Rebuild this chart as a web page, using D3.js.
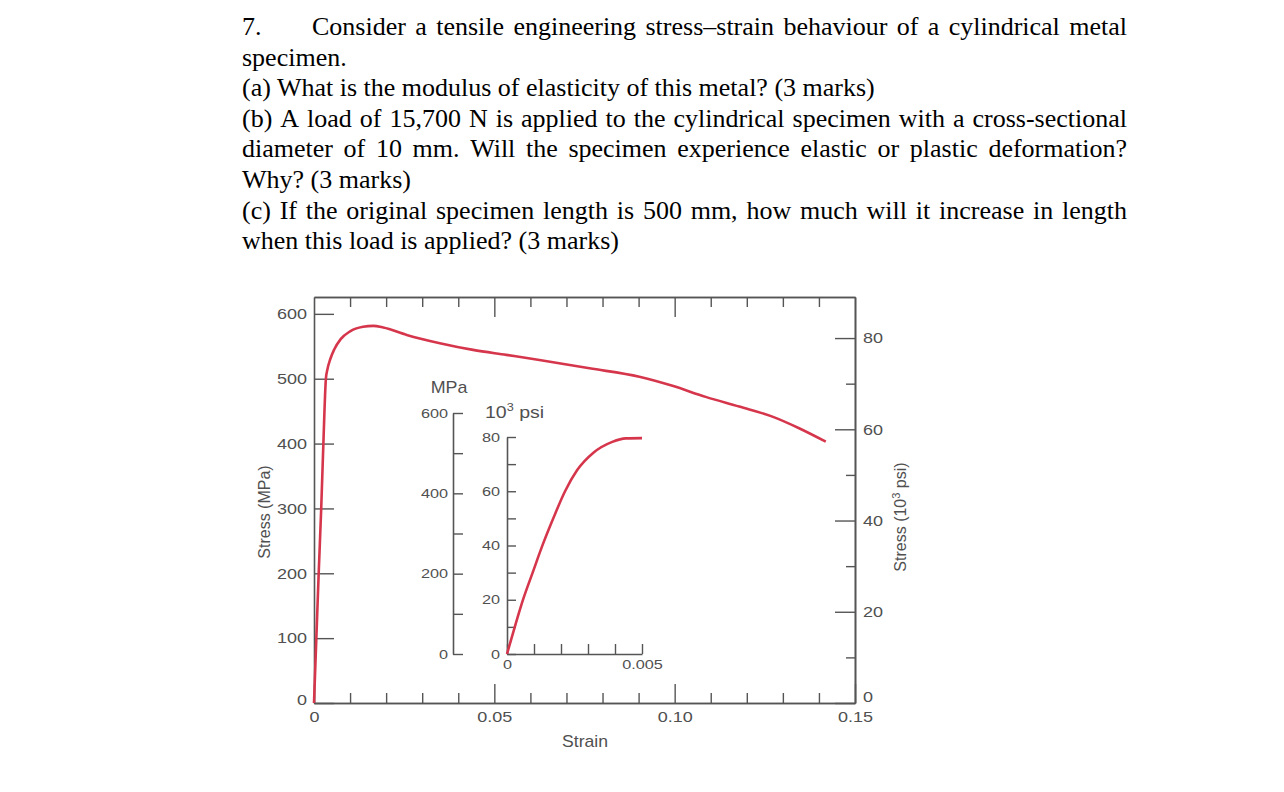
<!DOCTYPE html>
<html>
<head>
<meta charset="utf-8">
<script src="https://cdn.jsdelivr.net/npm/d3@7"></script>
<style>
  html, body { margin: 0; padding: 0; background: #fff; }
  svg { display: block; }
  .q { font-family: "Liberation Serif", "Times New Roman", serif; font-size: 26px; fill: #000; }
  .lab { font-family: "Liberation Sans", Arial, sans-serif; fill: #505050; }
</style>
</head>
<body>
<svg id="chart" width="1284" height="792"></svg>
<script>
// question text
const questionNumber = "7.";
const questionLines = [
  "Consider a tensile engineering stress\u2013strain behaviour of a cylindrical metal",
  "specimen.",
  "(a) What is the modulus of elasticity of this metal? (3 marks)",
  "(b) A load of 15,700 N is applied to the cylindrical specimen with a cross-sectional",
  "diameter of 10 mm. Will the specimen experience elastic or plastic deformation?",
  "Why? (3 marks)",
  "(c) If the original specimen length is 500 mm, how much will it increase in length",
  "when this load is applied? (3 marks)"
];
const justifiedLines = [true, false, false, true, true, false, true, false];

// main curve (engineering strain, stress in MPa)
const strain = [0, 0.00065, 0.0013, 0.002, 0.0026, 0.0033, 0.0037, 0.0045, 0.0056, 0.0074, 0.010,
  0.0136, 0.0164, 0.0192, 0.0257, 0.0349, 0.0441, 0.0533, 0.0625, 0.0764, 0.0902,
  0.0994, 0.1086, 0.1179, 0.1271, 0.1345, 0.1419];
const stressMPa = [0, 100, 200, 300, 400, 500, 514, 530, 545, 561, 573,
  580, 581.5, 579, 567.6, 554.8, 544.5, 536.8, 529, 516, 503,
  489, 472, 457, 441.6, 423.7, 403];

// inset curve (strain, stress in 10^3 psi)
const insetStrain = [0, 0.0003, 0.0006, 0.00095, 0.00133, 0.00175, 0.00215, 0.0026,
  0.0032, 0.0039, 0.0044, 0.005];
const insetStressKsi = [0, 10.4, 20.2, 30.0, 40.5, 50.9, 60.0, 67.8, 74.2, 78.2, 79.5, 79.6];

// ticks
const strainLabels = [0, 0.05, 0.10, 0.15];
const strainMinor = [0.01, 0.02, 0.03, 0.04, 0.06, 0.07, 0.08, 0.09, 0.11, 0.12, 0.13, 0.14];
const mpaTicks = [0, 100, 200, 300, 400, 500, 600];
const ksiLabels = [0, 20, 40, 60, 80];
const ksiMinor = [10, 30, 50, 70];
const insetMpaTicks = [0, 100, 200, 300, 400, 500, 600];
const insetKsiTicks = [0, 10, 20, 30, 40, 50, 60, 70, 80];
const insetStrainTicks = [0, 0.001, 0.002, 0.003, 0.004, 0.005];

const svg = d3.select("#chart");
const axisColor = "#555";
const red = "#d6364c";

// ---- question text ----
const q = svg.append("g");
const measure = q.append("text").attr("class", "q");
function wordWidth(w) { measure.text(w); return measure.node().getComputedTextLength(); }

q.append("text").attr("class", "q").attr("x", 242).attr("y", 35).text(questionNumber);

questionLines.forEach((line, i) => {
  const x0 = i === 0 ? 312 : 242;
  const yb = 35 + i * 30.6;
  const t = q.append("text").attr("class", "q").attr("y", yb);
  if (!justifiedLines[i]) {
    t.attr("x", x0).text(line);
    return;
  }
  const words = line.split(" ");
  const widths = words.map(wordWidth);
  const gap = (1127 - x0 - d3.sum(widths)) / (words.length - 1);
  let cx = x0;
  words.forEach((w, j) => {
    t.append("tspan").attr("x", cx).text(w);
    cx += widths[j] + gap;
  });
});
measure.remove();

// ---- main chart ----
const x = d3.scaleLinear().domain([0, 0.15]).range([314, 855]);
const y = d3.scaleLinear().domain([0, 626]).range([703, 297]);
const yKsi = d3.scaleLinear().domain([0, 89]).range([703, 297]);

function styleAxis(g, size, sx) {
  g.selectAll(".domain").attr("stroke", axisColor).attr("stroke-width", 1.6);
  g.selectAll(".tick line").attr("stroke", axisColor).attr("stroke-width", 1.4);
  g.selectAll("text")
    .attr("fill", "#505050")
    .attr("font-family", "'Liberation Sans', Arial, sans-serif")
    .attr("font-size", size)
    .each(function() {
      const t = d3.select(this);
      const tx = +t.attr("x") || 0;
      t.attr("x", tx / sx).attr("transform", `scale(${sx},1)`);
    });
  g.attr("font-family", null).attr("font-size", null);
}

const fmtStrain = d => d === 0 ? "0" : d.toFixed(2);

svg.append("g").attr("transform", "translate(0,703)")
  .call(d3.axisBottom(x).tickValues(strainMinor).tickSizeInner(-10).tickSizeOuter(0).tickFormat(""))
  .call(g => styleAxis(g, 15, 1.2));
svg.append("g").attr("transform", "translate(0,703)")
  .call(d3.axisBottom(x).tickValues(strainLabels).tickSizeInner(-19).tickSizeOuter(0).tickPadding(8).tickFormat(fmtStrain))
  .call(g => styleAxis(g, 15, 1.2));

svg.append("g").attr("transform", "translate(0,297)")
  .call(d3.axisTop(x).tickValues(strainMinor).tickSizeInner(-10).tickSizeOuter(0).tickFormat(""))
  .call(g => styleAxis(g, 15, 1.2));
svg.append("g").attr("transform", "translate(0,297)")
  .call(d3.axisTop(x).tickValues([0.05, 0.10]).tickSizeInner(-20).tickSizeOuter(0).tickFormat(""))
  .call(g => styleAxis(g, 15, 1.2));

svg.append("g").attr("transform", "translate(314,0)")
  .call(d3.axisLeft(y).tickValues(mpaTicks).tickSizeInner(-20).tickSizeOuter(0).tickPadding(7))
  .call(g => styleAxis(g, 15, 1.2))
  .call(g => g.selectAll(".tick text").filter(d => d === 0).attr("dy", "0.1em"));

svg.append("g").attr("transform", "translate(855,0)")
  .call(d3.axisRight(yKsi).tickValues(ksiMinor).tickSizeInner(-9).tickSizeOuter(0).tickFormat(""))
  .call(g => styleAxis(g, 15, 1.2));
svg.append("g").attr("transform", "translate(855,0)")
  .call(d3.axisRight(yKsi).tickValues(ksiLabels).tickSizeInner(-20).tickSizeOuter(0).tickPadding(8))
  .call(g => styleAxis(g, 15, 1.2))
  .call(g => g.selectAll(".tick text").filter(d => d === 0).attr("dy", "-0.08em"));

const mainLine = d3.line()
  .x(i => x(strain[i]))
  .y(i => y(stressMPa[i]))
  .curve(d3.curveMonotoneX);

svg.append("path")
  .attr("d", mainLine(d3.range(strain.length)))
  .attr("fill", "none")
  .attr("stroke", red)
  .attr("stroke-width", 2.6);

// axis titles
svg.append("text").attr("class", "lab")
  .attr("transform", "translate(270,512) rotate(-90)")
  .attr("text-anchor", "middle").attr("font-size", 16)
  .text("Stress (MPa)");

const rt = svg.append("text").attr("class", "lab")
  .attr("transform", "translate(906,517) rotate(-90)")
  .attr("text-anchor", "middle").attr("font-size", 16);
rt.append("tspan").text("Stress (10");
rt.append("tspan").attr("font-size", 11).attr("dy", -6).text("3");
rt.append("tspan").attr("dy", 6).text(" psi)");

svg.append("text").attr("class", "lab")
  .attr("transform", "translate(585,747) scale(1.1,1)")
  .attr("text-anchor", "middle").attr("font-size", 16)
  .text("Strain");

// ---- inset ----
const xIn = d3.scaleLinear().domain([0, 0.005]).range([507, 642]);
const yInKsi = d3.scaleLinear().domain([0, 80]).range([654, 437]);
const yInMPa = d3.scaleLinear().domain([0, 600]).range([654, 413]);

svg.append("g").attr("transform", "translate(453,0)")
  .call(d3.axisLeft(yInMPa).tickValues(insetMpaTicks).tickSizeInner(-10).tickSizeOuter(0).tickPadding(5)
    .tickFormat(d => d % 200 === 0 ? d : ""))
  .call(g => styleAxis(g, 13, 1.25));

svg.append("g").attr("transform", "translate(507,0)")
  .call(d3.axisLeft(yInKsi).tickValues(insetKsiTicks).tickSizeInner(-9).tickSizeOuter(0).tickPadding(7)
    .tickFormat(d => d % 20 === 0 ? d : ""))
  .call(g => styleAxis(g, 13, 1.25));

svg.append("g").attr("transform", "translate(0,654)")
  .call(d3.axisBottom(xIn).tickValues(insetStrainTicks).tickSizeInner(-10).tickSizeOuter(0).tickPadding(6)
    .tickFormat(d => d === 0 ? "0" : (Math.abs(d - 0.005) < 1e-9 ? "0.005" : "")))
  .call(g => styleAxis(g, 13, 1.25));

const insetLine = d3.line()
  .x(i => xIn(insetStrain[i]))
  .y(i => yInKsi(insetStressKsi[i]))
  .curve(d3.curveMonotoneX);

svg.append("path")
  .attr("d", insetLine(d3.range(insetStrain.length)))
  .attr("fill", "none")
  .attr("stroke", red)
  .attr("stroke-width", 2.6);

svg.append("text").attr("class", "lab")
  .attr("transform", "translate(449,393) scale(1.05,1)")
  .attr("text-anchor", "middle").attr("font-size", 17)
  .text("MPa");

const pt = svg.append("text").attr("class", "lab")
  .attr("transform", "translate(485,418) scale(1.15,1)")
  .attr("font-size", 17);
pt.append("tspan").text("10");
pt.append("tspan").attr("font-size", 11).attr("dy", -7).text("3");
pt.append("tspan").attr("dy", 7).text(" psi");
</script>
</body>
</html>
